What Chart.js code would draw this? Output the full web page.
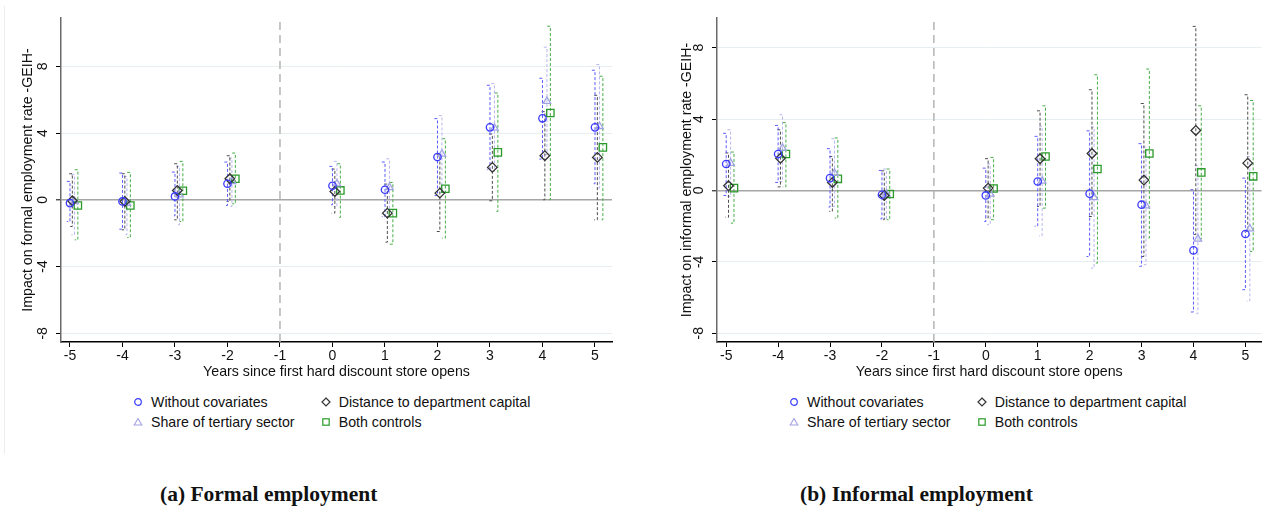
<!DOCTYPE html>
<html>
<head>
<meta charset="utf-8">
<script src="https://cdn.jsdelivr.net/npm/chart.js@4/dist/chart.umd.min.js"></script>
<style>
  body { margin: 0; background: #fff; width: 1268px; height: 521px; position: relative; overflow: hidden;
         font-family: "Liberation Sans", Arial, sans-serif; color: #111; }
  canvas { position: absolute; top: 0; }
  #chartFormal { left: 0; }
  #chartInformal { left: 634px; }
  .frame { position: absolute; left: 4px; top: 6px; width: 1px; height: 448px; background: #ededed; }
  .legend-item { position: absolute; height: 18px; display: flex; align-items: center; font-size: 14.2px; white-space: nowrap; }
  .legend-item svg { margin-right: 8px; }
  .caption { position: absolute; top: 482px; font-family: "Liberation Serif", "DejaVu Serif", serif; font-weight: bold; font-size: 21.5px; white-space: nowrap; }
</style>
</head>
<body>
<div class="frame"></div>
<canvas id="chartFormal" width="634" height="390"></canvas>
<canvas id="chartInformal" width="634" height="390"></canvas>
<div class="caption" style="left:160px">(a) Formal employment</div>
<div class="caption" style="left:800px">(b) Informal employment</div>
<script>
// Event-study estimates by year relative to the first hard discount store opening
const years = [-5, -4, -3, -2, 0, 1, 2, 3, 4, 5];
const xTickValues = [-5, -4, -3, -2, -1, 0, 1, 2, 3, 4, 5];
const yTickValues = [-8, -4, 0, 4, 8];
const seriesNames = ["Without covariates", "Distance to department capital", "Share of tertiary sector", "Both controls"];

// Formal employment (GEIH)
const formalNoCov   = [-0.20, -0.10, 0.20, 0.96, 0.84, 0.60, 2.56, 4.34, 4.88, 4.34];
const formalNoCovLo = [-1.30, -1.76, -0.96, -0.34, -0.30, -1.00, 0.25, 1.80, 2.44, 0.96];
const formalNoCovHi = [1.10, 1.60, 1.66, 2.26, 2.00, 2.26, 4.86, 6.86, 7.28, 7.76];

const formalDist   = [-0.06, -0.10, 0.56, 1.26, 0.50, -0.80, 0.40, 1.94, 2.64, 2.54];
const formalDistLo = [-1.60, -1.80, -1.20, -0.10, -0.80, -2.54, -1.90, -0.06, 0.00, -1.20];
const formalDistHi = [1.56, 1.56, 2.16, 2.64, 1.84, 0.94, 2.70, 3.94, 5.28, 6.26];

const formalTert   = [-0.10, -0.20, 0.30, 1.10, 0.96, 0.74, 2.74, 4.30, 5.90, 4.40];
const formalTertLo = [-2.10, -2.10, -1.50, -0.40, -0.40, -1.00, 0.45, 1.70, 2.70, 0.70];
const formalTertHi = [1.50, 1.40, 2.00, 2.50, 2.30, 2.45, 5.04, 6.96, 9.14, 8.10];

const formalBoth   = [-0.34, -0.34, 0.54, 1.26, 0.56, -0.80, 0.66, 2.84, 5.20, 3.14];
const formalBothLo = [-2.40, -2.26, -1.30, -0.24, -1.06, -2.66, -2.30, -0.70, 0.00, -1.20];
const formalBothHi = [1.80, 1.64, 2.30, 2.80, 2.16, 1.04, 3.66, 6.40, 10.40, 7.40];

// Informal employment (GEIH)
const informalNoCov   = [1.48, 2.04, 0.69, -0.24, -0.28, 0.50, -0.18, -0.80, -3.36, -2.44];
const informalNoCovLo = [-0.28, 0.45, -0.93, -1.59, -1.74, -2.00, -3.70, -4.25, -6.81, -5.56];
const informalNoCovHi = [3.20, 3.64, 2.34, 1.12, 1.25, 3.03, 3.34, 2.62, 0.04, 0.69];

const informalDist   = [0.26, 1.80, 0.45, -0.28, 0.13, 1.78, 2.07, 0.58, 3.36, 1.53];
const informalDistLo = [-1.50, 0.20, -1.17, -1.64, -1.55, -0.90, -1.46, -3.70, -2.47, -2.30];
const informalDistHi = [2.10, 3.40, 1.90, 1.10, 1.78, 4.46, 5.64, 4.87, 9.19, 5.36];

const informalTert   = [1.53, 2.37, 0.97, -0.20, -0.20, 0.53, -0.39, -0.86, -2.72, -2.15];
const informalTertLo = [-0.34, 0.50, -0.90, -1.60, -1.92, -2.54, -4.35, -4.16, -6.90, -6.20];
const informalTertHi = [3.40, 4.24, 2.90, 1.20, 1.48, 3.60, 3.55, 2.44, 1.40, 1.90];

const informalBoth   = [0.13, 2.04, 0.65, -0.20, 0.11, 1.90, 1.20, 2.07, 1.01, 0.79];
const informalBothLo = [-1.83, 0.20, -1.55, -1.64, -1.64, -0.99, -4.07, -2.67, -2.72, -3.42];
const informalBothHi = [2.15, 3.80, 2.94, 1.20, 1.85, 4.74, 6.48, 6.80, 4.74, 5.04];

// Horizontal dodge (in years) and marker styling for each specification
const DODGE = [0, 0.045, 0.085, 0.15];
const CAP = 0.06;
const STYLES = [
  { pointStyle: 'circle',   radius: 3.7, color: '#3a3aff', ci: '#5c5cff' },
  { pointStyle: 'rectRot',  radius: 4.8, color: '#333333', ci: '#4d4d4d' },
  { pointStyle: 'triangle', radius: 4.3, color: '#a2a2e2', ci: '#b6b6ee' },
  { pointStyle: 'rect',     radius: 5.2, color: '#2a9a2a', ci: '#46ae46' }
];
const AXIS_FONT = { family: 'Liberation Sans', size: 14.2 };
const TICK_FONT = { family: 'Liberation Sans', size: 14 };

function ciPath(lo, hi, dx) {
  const pts = [];
  years.forEach((t, i) => {
    const x = t + dx;
    pts.push({ x: x - CAP, y: hi[i] }, { x: x, y: hi[i] }, { x: x, y: lo[i] }, { x: x - CAP, y: lo[i] }, { x: x, y: null });
  });
  return pts;
}

function makeChart(canvasId, opts) {
  const datasets = [];
  // reference line at the last pre-treatment year
  datasets.push({
    type: 'line', data: [{ x: -1, y: opts.yMin }, { x: -1, y: opts.yMax }],
    borderColor: '#b4b4b4', borderWidth: 1.5, borderDash: [8, 5], pointRadius: 0, order: 5
  });
  opts.series.forEach((s, k) => {
    const st = STYLES[k];
    datasets.push({
      type: 'line', data: ciPath(s.lo, s.hi, DODGE[k]),
      borderColor: st.ci, borderWidth: 1, borderDash: [3, 2], pointRadius: 0,
      spanGaps: false, tension: 0, fill: false, order: 3
    });
  });
  opts.series.forEach((s, k) => {
    const st = STYLES[k];
    datasets.push({
      type: 'scatter', label: seriesNames[k],
      data: years.map((t, i) => ({ x: t + DODGE[k], y: s.est[i] })),
      pointStyle: st.pointStyle, pointRadius: st.radius, pointBorderColor: st.color,
      pointBackgroundColor: 'rgba(0,0,0,0)', pointBorderWidth: 1.3, showLine: false, order: 1
    });
  });

  return new Chart(document.getElementById(canvasId), {
    data: { datasets },
    options: {
      responsive: false, animation: false, events: [],
      layout: { padding: { top: 18, right: opts.padRight, left: 0, bottom: 0 } },
      plugins: { legend: { display: false }, tooltip: { enabled: false } },
      scales: {
        x: {
          type: 'linear', min: opts.xMin, max: opts.xMax,
          afterBuildTicks: (sc) => { sc.ticks = xTickValues.map(v => ({ value: v })); },
          afterFit: (sc) => { sc.height = 48; },
          grid: { drawOnChartArea: false, drawTicks: true, tickLength: 5, tickColor: '#000', tickWidth: 1 },
          border: { display: true, color: '#000', width: 1.5 },
          ticks: { color: '#111', font: TICK_FONT, padding: 1, maxRotation: 0, autoSkip: false },
          title: { display: true, text: 'Years since first hard discount store opens', color: '#111',
                   font: AXIS_FONT, padding: { top: 0, bottom: 9.5 } }
        },
        y: {
          type: 'linear', min: opts.yMin, max: opts.yMax,
          afterBuildTicks: (sc) => { sc.ticks = yTickValues.map(v => ({ value: v })); },
          afterFit: (sc) => { sc.width = opts.yAxisWidth; },
          grid: {
            color: (c) => c.tick && c.tick.value === 0 ? '#a6a6a6' : '#e6eef1',
            lineWidth: (c) => c.tick && c.tick.value === 0 ? 1.6 : 1,
            drawTicks: true, tickLength: 5, tickColor: '#000', tickWidth: 1
          },
          border: { display: true, color: '#6a6a6a', width: 1.5 },
          ticks: { color: '#111', font: TICK_FONT, padding: 7,
                   minRotation: 90, maxRotation: 90, crossAlign: 'center', autoSkip: false },
          title: { display: true, text: opts.yTitle, color: '#111',
                   font: AXIS_FONT, padding: { top: opts.yTitlePad, bottom: 0 } }
        }
      }
    }
  });
}

makeChart('chartFormal', {
  yTitle: 'Impact on formal employment rate -GEIH-',
  xMin: -5.171, xMax: 5.324, yMin: -8.52, yMax: 10.89,
  yAxisWidth: 61, yTitlePad: 19.5, padRight: 22,
  series: [
    { est: formalNoCov, lo: formalNoCovLo, hi: formalNoCovHi },
    { est: formalDist,  lo: formalDistLo,  hi: formalDistHi },
    { est: formalTert,  lo: formalTertLo,  hi: formalTertHi },
    { est: formalBoth,  lo: formalBothLo,  hi: formalBothHi }
  ]
});

makeChart('chartInformal', {
  yTitle: 'Impact on informal employment rate -GEIH-',
  xMin: -5.177, xMax: 5.31, yMin: -8.49, yMax: 9.66,
  yAxisWidth: 83, yTitlePad: 44.5, padRight: 1,
  series: [
    { est: informalNoCov, lo: informalNoCovLo, hi: informalNoCovHi },
    { est: informalDist,  lo: informalDistLo,  hi: informalDistHi },
    { est: informalTert,  lo: informalTertLo,  hi: informalTertHi },
    { est: informalBoth,  lo: informalBothLo,  hi: informalBothHi }
  ]
});

// Two-column legends under each panel
function markerSvg(k) {
  const st = STYLES[k];
  const c = st.color;
  let shape;
  if (st.pointStyle === 'circle') shape = `<circle cx="5" cy="5" r="3.3" fill="none" stroke="${c}" stroke-width="1.2"/>`;
  else if (st.pointStyle === 'rectRot') shape = `<polygon points="5,1 9,5 5,9 1,5" fill="none" stroke="${c}" stroke-width="1.2"/>`;
  else if (st.pointStyle === 'triangle') shape = `<polygon points="5,1.5 8.8,8 1.2,8" fill="none" stroke="${c}" stroke-width="1.1"/>`;
  else shape = `<rect x="1.8" y="1.8" width="6.4" height="6.4" fill="none" stroke="${c}" stroke-width="1.2"/>`;
  return `<svg width="10" height="10" viewBox="0 0 10 10">${shape}</svg>`;
}
function addLegend(left) {
  const cols = [0, 187.7];
  const rows = [393, 412.7];
  const slot = [[0, 0], [1, 0], [0, 1], [1, 1]];
  seriesNames.forEach((name, k) => {
    const [ci, ri] = slot[k];
    const div = document.createElement('div');
    div.className = 'legend-item';
    div.style.left = (left + cols[ci]) + 'px';
    div.style.top = rows[ri] + 'px';
    div.innerHTML = markerSvg(k) + '<span>' + name + '</span>';
    document.body.appendChild(div);
  });
}
addLegend(133);
addLegend(789);
</script>
</body>
</html>
